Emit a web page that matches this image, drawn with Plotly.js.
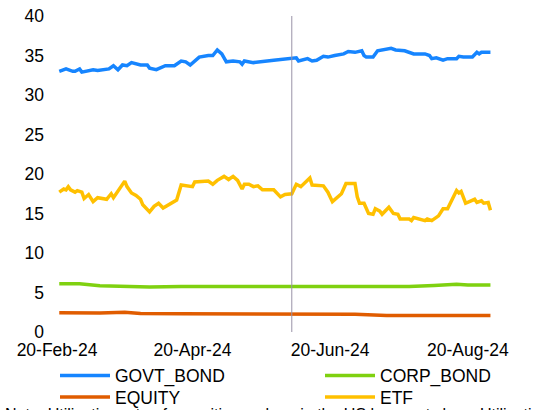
<!DOCTYPE html>
<html>
<head>
<meta charset="utf-8">
<script src="https://cdn.plot.ly/plotly-3.0.1.min.js"></script>
<style>html,body{margin:0;padding:0;background:#fff;}#chart{width:548px;height:410px;}</style>
</head>
<body>
<div id="chart"></div>
<script>
// ---- data ----
const govtDates = ['2024-02-21','2024-02-24','2024-02-27','2024-02-28','2024-03-01','2024-03-02','2024-03-07','2024-03-09','2024-03-14','2024-03-16','2024-03-18','2024-03-20','2024-03-22','2024-03-24','2024-03-28','2024-03-31','2024-04-01','2024-04-04','2024-04-08','2024-04-12','2024-04-15','2024-04-17','2024-04-19','2024-04-23','2024-04-27','2024-04-29','2024-05-01','2024-05-03','2024-05-05','2024-05-08','2024-05-11','2024-05-12','2024-05-13','2024-05-17','2024-05-26','2024-05-30','2024-06-03','2024-06-05','2024-06-06','2024-06-10','2024-06-12','2024-06-14','2024-06-17','2024-06-19','2024-06-22','2024-06-26','2024-06-28','2024-07-01','2024-07-04','2024-07-05','2024-07-06','2024-07-09','2024-07-11','2024-07-15','2024-07-17','2024-07-19','2024-07-23','2024-07-27','2024-08-01','2024-08-03','2024-08-04','2024-08-06','2024-08-09','2024-08-11','2024-08-15','2024-08-16','2024-08-18','2024-08-22','2024-08-24','2024-08-25','2024-08-26','2024-08-30'];
const govtBond = [33.0,33.3,33.0,33.0,33.3,32.9,33.2,33.1,33.3,33.7,33.2,33.8,33.7,34.1,33.8,33.8,33.4,33.2,33.7,33.7,34.3,34.2,33.8,34.8,35.0,35.0,35.7,35.2,34.2,34.3,34.2,33.9,34.3,34.1,34.4,34.5,34.6,34.7,34.3,34.6,34.3,34.4,34.9,34.8,35.0,35.2,35.5,35.4,35.6,35.0,34.8,34.8,35.6,35.8,35.9,35.7,35.6,35.2,35.2,35.0,34.6,34.7,34.4,34.6,34.6,34.9,34.8,34.8,35.4,35.2,35.4,35.4];

const etfDates = ['2024-02-21','2024-02-23','2024-02-24','2024-02-25','2024-02-26','2024-02-28','2024-02-29','2024-03-02','2024-03-03','2024-03-05','2024-03-07','2024-03-09','2024-03-13','2024-03-15','2024-03-16','2024-03-21','2024-03-22','2024-03-24','2024-03-26','2024-03-28','2024-03-29','2024-03-31','2024-04-01','2024-04-03','2024-04-05','2024-04-07','2024-04-09','2024-04-11','2024-04-13','2024-04-15','2024-04-20','2024-04-21','2024-04-27','2024-04-29','2024-05-01','2024-05-04','2024-05-06','2024-05-08','2024-05-10','2024-05-12','2024-05-13','2024-05-15','2024-05-17','2024-05-19','2024-05-21','2024-05-26','2024-05-29','2024-05-31','2024-06-03','2024-06-05','2024-06-07','2024-06-11','2024-06-12','2024-06-17','2024-06-19','2024-06-21','2024-06-25','2024-06-27','2024-07-01','2024-07-02','2024-07-03','2024-07-05','2024-07-07','2024-07-09','2024-07-10','2024-07-12','2024-07-13','2024-07-16','2024-07-18','2024-07-20','2024-07-21','2024-07-25','2024-07-26','2024-07-27','2024-07-30','2024-08-01','2024-08-02','2024-08-04','2024-08-07','2024-08-09','2024-08-11','2024-08-13','2024-08-15','2024-08-16','2024-08-17','2024-08-19','2024-08-21','2024-08-23','2024-08-24','2024-08-26','2024-08-27','2024-08-29','2024-08-30'];
const etf = [17.7,18.1,18.0,18.4,18.0,17.7,17.9,17.7,16.9,17.4,16.5,17.0,16.8,17.5,17.0,19.1,18.4,17.6,17.3,16.8,16.1,15.4,15.2,15.9,16.3,15.7,16.0,16.3,16.7,18.6,18.4,19.0,19.1,18.7,19.2,19.7,19.3,19.7,19.2,18.1,18.7,18.7,18.4,18.5,18.0,18.0,17.1,17.4,17.5,18.7,18.4,19.5,18.6,18.5,17.7,16.5,17.5,18.8,18.8,17.1,16.3,16.3,15.0,14.9,15.6,15.3,14.9,15.8,15.0,14.9,14.3,14.3,14.1,14.5,14.3,14.1,14.3,14.1,14.7,15.6,15.6,16.7,17.9,17.6,17.8,16.3,16.6,16.8,16.4,16.6,16.3,16.4,15.4];

const corpDates = ['2024-02-21','2024-03-01','2024-03-10','2024-03-20','2024-04-01','2024-04-15','2024-04-30','2024-05-01','2024-05-03','2024-05-08','2024-05-26','2024-06-10','2024-06-25','2024-07-10','2024-07-25','2024-08-05','2024-08-15','2024-08-20','2024-08-30'];
const corpBond = [6.1,6.1,5.85,5.75,5.7,5.75,5.75,5.85,5.75,5.85,5.85,5.8,5.85,5.75,5.75,5.9,6.05,5.95,5.95];

const equityDates = ['2024-02-21','2024-03-10','2024-03-21','2024-03-28','2024-04-15','2024-05-01','2024-05-20','2024-06-15','2024-07-01','2024-07-15','2024-08-01','2024-08-15','2024-08-30'];
const equity = [2.45,2.4,2.5,2.35,2.3,2.3,2.25,2.3,2.25,2.1,2.1,2.15,2.1];

const xTickVals = ['2024-02-20','2024-04-20','2024-06-20','2024-08-20'];
const yTickVals = [0,5,10,15,20,25,30,35,40];
const markerDate = '2024-06-03';
const noteText = 'Note: Utilisation rate of securities on loan in the US by asset class. Utilisation the';

const FONT = 'Arial, "Liberation Sans", sans-serif';
const traces = [
  {x: govtDates, y: govtBond, name: 'GOVT_BOND', legend: 'legend', line: {color: '#1685FF', width: 3.5}},
  {x: corpDates, y: corpBond, name: 'CORP_BOND', legend: 'legend2', line: {color: '#7FD110', width: 3.5}},
  {x: equityDates, y: equity, name: 'EQUITY', legend: 'legend3', line: {color: '#E05C00', width: 3.5}},
  {x: etfDates, y: etf, name: 'ETF', legend: 'legend4', line: {color: '#FFC000', width: 3.5}}
].map(t => Object.assign({type: 'scatter', mode: 'lines'}, t));

const legendBase = {orientation: 'v', xref: 'container', yref: 'container', xanchor: 'left', yanchor: 'top',
  itemwidth: 50, tracegroupgap: 0, bgcolor: 'rgba(0,0,0,0)', borderwidth: 0,
  font: {family: FONT, size: 17.5, color: '#000'}};
const col1 = 55 / 548, col2 = 320 / 548, row1 = 0.128, row2 = 0.0756;

const layout = {
  width: 548, height: 410,
  margin: {l: 57, r: 44, t: 16, b: 78, autoexpand: false},
  paper_bgcolor: '#fff', plot_bgcolor: '#fff',
  font: {family: FONT, size: 17.5, color: '#000'},
  showlegend: true,
  legend: Object.assign({}, legendBase, {x: col1, y: row1}),
  legend2: Object.assign({}, legendBase, {x: col2, y: row1}),
  legend3: Object.assign({}, legendBase, {x: col1, y: row2}),
  legend4: Object.assign({}, legendBase, {x: col2, y: row2}),
  xaxis: {type: 'date', range: ['2024-02-20', '2024-09-05'], tickvals: xTickVals, tickformat: '%d-%b-%y',
          showgrid: false, zeroline: false, showline: false, ticks: '', ticklabelstandoff: 5,
          tickfont: {family: FONT, size: 17.5, color: '#000'}},
  yaxis: {range: [0, 40], tickvals: yTickVals, showgrid: false, zeroline: false, showline: false,
          ticks: '', ticklabelstandoff: 12, tickfont: {family: FONT, size: 17.5, color: '#000'}},
  shapes: [{type: 'line', xref: 'x', yref: 'paper', x0: markerDate, x1: markerDate, y0: 0, y1: 1,
            line: {color: '#9A93A8', width: 1}}],
  annotations: [{text: noteText, xref: 'paper', yref: 'paper', x: -0.121, xanchor: 'left', y: -0.2266, yanchor: 'top',
                 showarrow: false, font: {family: FONT, size: 16, color: '#000'}}]
};
Plotly.newPlot('chart', traces, layout, {displayModeBar: false, staticPlot: true});
</script>
</body>
</html>
